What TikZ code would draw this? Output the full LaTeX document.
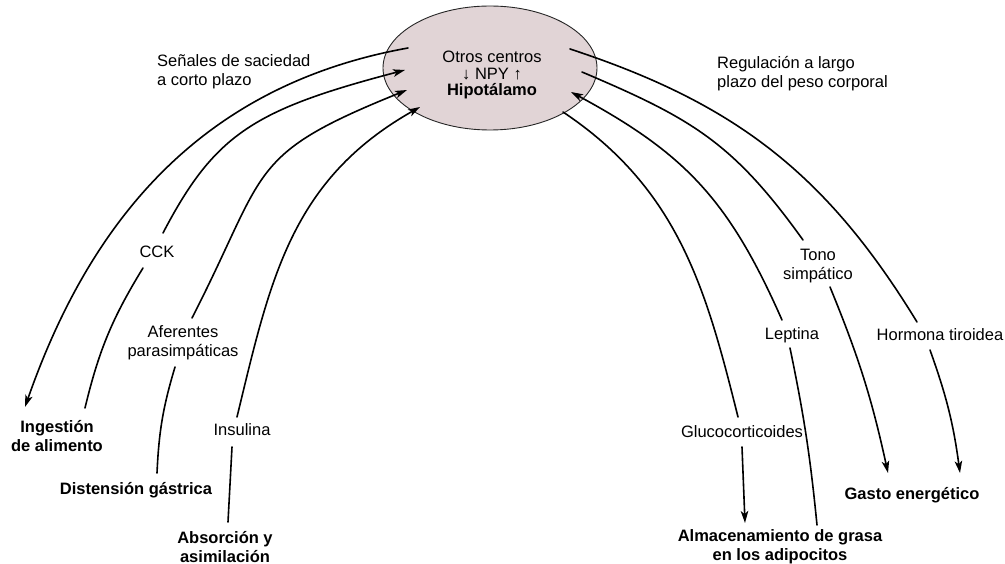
\documentclass[tikz,border=0pt]{standalone}
\usepackage{fontspec}
\setmainfont{Liberation Sans}
\usetikzlibrary{arrows.meta,shapes.geometric}
\definecolor{hypfill}{RGB}{225,212,214}
\begin{document}
\begin{tikzpicture}[x=1pt,y=-1pt,
  lbl/.style={font=\fontsize{16.5}{19}\selectfont, align=center, inner sep=0pt},
  mainlbl/.style={lbl, font=\fontsize{16.5}{19}\selectfont\bfseries},
  link/.style={line width=1.6pt, line cap=round},
  tip/.style={link, -{Stealth[length=12pt,width=7.5pt,inset=3pt]}},
]
\useasboundingbox (0,0) rectangle (1005,564);

% hypothalamus
\node[ellipse, draw=black!85, line width=0.9pt, fill=hypfill,
      minimum width=214pt, minimum height=124pt, inner sep=0pt] (hyp) at (490,68) {};
\node[lbl, font=\fontsize{16.5}{16.5}\selectfont] (hyptext) at (492,75)
  {Otros centros\\ ↓ NPY ↑\\ \textbf{Hipotálamo}};

% headings
\node[lbl, align=left, anchor=west] (short) at (157,72) {Señales de saciedad\\a corto plazo};
\node[lbl, align=left, anchor=west] (long) at (717,74) {Regulación a largo\\plazo del peso corporal};

% signals
\node[lbl] (cck) at (157,252) {CCK};
\node[lbl] (afer) at (183,343) {Aferentes\\parasimpáticas};
\node[lbl] (ins) at (242,430) {Insulina};
\node[lbl] (tono) at (818,266) {Tono\\simpático};
\node[lbl] (lep) at (792,335) {Leptina};
\node[lbl] (tir) at (940,335) {Hormona tiroidea};
\node[lbl] (gluc) at (742,432) {Glucocorticoides};

% effectors
\node[mainlbl] (ing) at (57,436) {Ingestión\\de alimento};
\node[mainlbl] (dist) at (136,490) {Distensión gástrica};
\node[mainlbl] (abs) at (225,547) {Absorción y\\asimilación};
\node[mainlbl] (gasto) at (912,495) {Gasto energético};
\node[mainlbl] (alm) at (780,547) {Almacenamiento de grasa\\en los adipocitos};

% connector ends
\coordinate (l1s) at (408,48);  \coordinate (l1e) at (25,407);
\coordinate (l2a) at (85,408);  \coordinate (l2b) at (143,268);
\coordinate (l2c) at (163,233); \coordinate (l2d) at (405,70);
\coordinate (l3a) at (157,473); \coordinate (l3b) at (175,367);
\coordinate (l3c) at (192,318); \coordinate (l3d) at (407,90);
\coordinate (l4a) at (228,522); \coordinate (l4b) at (232,447);
\coordinate (l4c) at (237,417); \coordinate (l4d) at (420,107);
\coordinate (r1s) at (570,49);  \coordinate (r1b) at (917,322);
\coordinate (r1c) at (930,350); \coordinate (r1e) at (960,473);
\coordinate (r2s) at (582,72);  \coordinate (r2b) at (803,240);
\coordinate (r2c) at (830,287); \coordinate (r2e) at (888,473);
\coordinate (r3a) at (817,525); \coordinate (r3b) at (790,348);
\coordinate (r3c) at (782,320); \coordinate (r3d) at (571,92);
\coordinate (r4s) at (563,112); \coordinate (r4b) at (738,417);
\coordinate (r4c) at (742,447); \coordinate (r4e) at (745,523);

% short-term satiety signals
\draw[tip] (l1s) .. controls (202,85) and (90.5,219.6) .. (l1e);
\draw[link] (l2a) to[bend left=9] (l2b);
\draw[tip] (l2c) .. controls (215,133.5) and (254.3,109.6) .. (l2d);
\draw[link] (l3a) to[bend left=7] (l3b);
\draw[tip] (l3c) .. controls (268.6,168.6) and (245.1,155.3) .. (l3d);
\draw[link] (l4a) -- (l4b);
\draw[tip] (l4c) .. controls (270.3,279.4) and (290.7,180.1) .. (l4d);

% long-term regulation of body weight
\draw[link] (r1s) .. controls (734.8,103.1) and (826.1,173.2) .. (r1b);
\draw[tip] (r1c) to[bend left=6] (r1e);
\draw[link] (r2s) .. controls (692,118.6) and (733,142.4) .. (r2b);
\draw[tip] (r2c) to[bend left=5] (r2e);
\draw[link] (r3a) to[bend right=3] (r3b);
\draw[tip] (r3c) .. controls (729,199.7) and (684.8,153.4) .. (r3d);
\draw[link] (r4s) .. controls (679.2,189.5) and (706.3,290.3) .. (r4b);
\draw[tip] (r4c) -- (r4e);
\end{tikzpicture}
\end{document}
